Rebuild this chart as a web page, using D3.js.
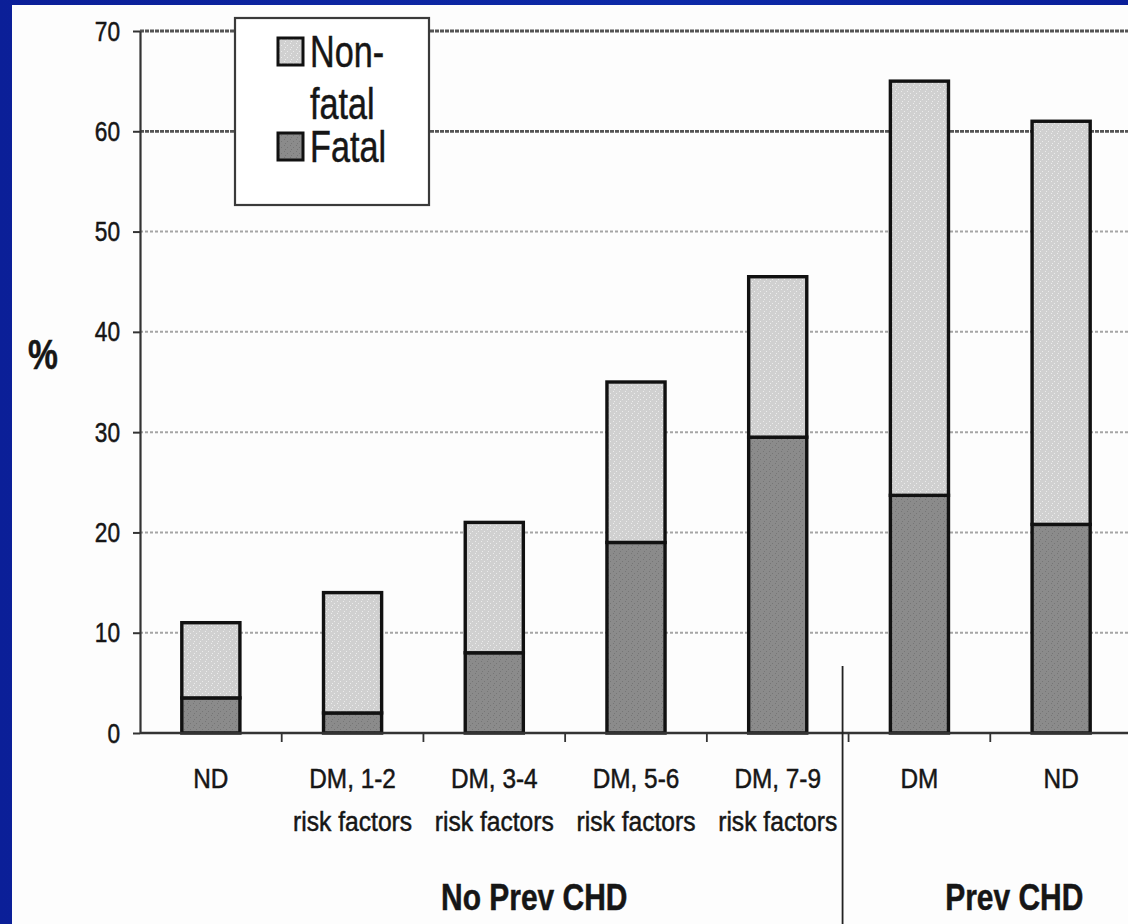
<!DOCTYPE html>
<html>
<head>
<meta charset="utf-8">
<script src="https://cdn.jsdelivr.net/npm/d3@7"></script>
<style>
  html, body { margin: 0; padding: 0; background: #0a22a0; }
  svg { display: block; }
  text { font-family: "Liberation Sans", Arial, sans-serif; fill: #161616; stroke: #161616; stroke-width: 0.5px; }
</style>
</head>
<body>
<svg id="chart" width="1128" height="924"></svg>
<script>
// Event rates (%) by group: fatal and non-fatal stacks
const categories   = ["ND", "DM, 1-2", "DM, 3-4", "DM, 5-6", "DM, 7-9", "DM", "ND"];
const subLabels    = ["", "risk factors", "risk factors", "risk factors", "risk factors", "", ""];
const fatal        = [3.5, 2.0, 8.0, 19.0, 29.5, 23.7, 20.8];
const nonFatal     = [7.5, 12.0, 13.0, 16.0, 16.0, 41.3, 40.2];
const groups       = ["No Prev CHD", "Prev CHD"];
const groupOf      = [0, 0, 0, 0, 0, 1, 1];
const yTicks       = [0, 10, 20, 30, 40, 50, 60, 70];

const svg = d3.select("#chart");
const W = 1128, H = 924;

// page background and white figure panel
const defs = svg.append("defs");
const bgGrad = defs.append("linearGradient")
  .attr("id", "bg").attr("x1", 0).attr("y1", 0).attr("x2", 1).attr("y2", 0);
bgGrad.append("stop").attr("offset", 0).attr("stop-color", "#0b1f98");
bgGrad.append("stop").attr("offset", 0.6).attr("stop-color", "#0d2aa8");
bgGrad.append("stop").attr("offset", 1).attr("stop-color", "#0a1f9a");
svg.append("rect").attr("width", W).attr("height", H).attr("fill", "url(#bg)");
svg.append("rect").attr("x", 12).attr("y", 5).attr("width", W - 12).attr("height", H - 5).attr("fill", "#fdfdfd");

// speckled fills for the two series
function speckle(id, base, dot) {
  const p = defs.append("pattern").attr("id", id).attr("patternUnits", "userSpaceOnUse")
    .attr("width", 6).attr("height", 6);
  p.append("rect").attr("width", 6).attr("height", 6).attr("fill", base);
  p.append("rect").attr("x", 1).attr("y", 1).attr("width", 1).attr("height", 1).attr("fill", dot);
  p.append("rect").attr("x", 4).attr("y", 3).attr("width", 1).attr("height", 1).attr("fill", dot);
  p.append("rect").attr("x", 2).attr("y", 5).attr("width", 1).attr("height", 1).attr("fill", dot);
}
speckle("pNon", "#d0d0d0", "#ececec");
speckle("pFat", "#8b8b8b", "#767676");
const fills = { nonFatal: "url(#pNon)", fatal: "url(#pFat)" };

// scales
const x = d3.scaleBand().domain(d3.range(categories.length))
  .range([140, 1132]).paddingInner(0.59).paddingOuter(0.295);
const y = d3.scaleLinear().domain([0, 70]).range([733, 31]);

// gridlines
svg.append("g").selectAll("line").data(yTicks.filter(t => t > 0)).join("line")
  .attr("x1", 140).attr("x2", W)
  .attr("y1", d => y(d)).attr("y2", d => y(d))
  .attr("stroke", d => d >= 60 ? "#555" : "#a5a5a5")
  .attr("stroke-width", d => d >= 60 ? 2.8 : 2)
  .attr("stroke-dasharray", d => d >= 60 ? "4,1" : "3,2");

// stacked bars
const rows = categories.map((c, i) => ({ i, fatal: fatal[i], nonFatal: nonFatal[i] }));
const stack = d3.stack().keys(["fatal", "nonFatal"])(rows);
const layers = svg.append("g").selectAll("g").data(stack).join("g")
  .attr("fill", d => fills[d.key]);
layers.selectAll("rect").data(d => d).join("rect")
  .attr("x", d => x(d.data.i))
  .attr("width", x.bandwidth())
  .attr("y", d => y(d[1]))
  .attr("height", d => y(d[0]) - y(d[1]))
  .attr("stroke", "#111").attr("stroke-width", 3.4);

// y axis
const yAxis = svg.append("g").attr("transform", "translate(140,0)")
  .call(d3.axisLeft(y).tickValues(yTicks).tickSize(7).tickPadding(0).tickSizeOuter(0));
yAxis.select(".domain").attr("stroke", "#333").attr("stroke-width", 2.2);
yAxis.selectAll(".tick line").attr("stroke", "#333").attr("stroke-width", 2);
yAxis.selectAll(".tick text")
  .attr("x", null).attr("dy", null)
  .attr("text-anchor", "end")
  .attr("font-size", 27)
  .attr("transform", "translate(-20,9) scale(0.84,1)");

// x axis
const xAxis = svg.append("g").attr("transform", "translate(0,733)");
xAxis.append("line").attr("x1", 140).attr("x2", W).attr("y1", 0).attr("y2", 0)
  .attr("stroke", "#333").attr("stroke-width", 2.6);
const bounds = d3.range(categories.length).map(i => x(i) - x.step() * x.paddingInner() / 2);
xAxis.selectAll("line.tick").data(bounds.slice(1)).join("line").attr("class", "tick")
  .attr("x1", d => d).attr("x2", d => d).attr("y1", 0).attr("y2", 9)
  .attr("stroke", "#333").attr("stroke-width", 1.8);

// category labels
const cx = i => x(i) + x.bandwidth() / 2;
const lab = svg.append("g");
lab.selectAll("text.l1").data(categories).join("text").attr("class", "l1")
  .attr("transform", (d, i) => `translate(${cx(i)},788) scale(0.87,1)`)
  .attr("text-anchor", "middle").attr("font-size", 28).text(d => d);
lab.selectAll("text.l2").data(subLabels).join("text").attr("class", "l2")
  .attr("transform", (d, i) => `translate(${cx(i)},831) scale(0.88,1)`)
  .attr("text-anchor", "middle").attr("font-size", 28).text(d => d);

// group divider and group titles
const split = x(groupOf.indexOf(1)) - x.step() * x.paddingInner() / 2 - 6;
svg.append("line").attr("x1", split).attr("x2", split).attr("y1", 666).attr("y2", H)
  .attr("stroke", "#222").attr("stroke-width", 1.8);
const groupCentre = g => d3.mean(d3.range(categories.length).filter(i => groupOf[i] === g), cx);
const groupShift = [40, 24];
svg.selectAll("text.grp").data(groups).join("text").attr("class", "grp")
  .attr("transform", (d, g) => `translate(${groupCentre(g) + groupShift[g]},910) scale(0.81,1)`)
  .attr("text-anchor", "middle").attr("font-size", 37).attr("font-weight", "bold")
  .text(d => d);

// y axis title
svg.append("text").attr("transform", "translate(43,369) scale(0.8,1)")
  .attr("text-anchor", "middle").attr("font-size", 42).attr("font-weight", "bold").text("%");

// legend
const lg = svg.append("g").attr("transform", "translate(235,18)");
lg.append("rect").attr("width", 194).attr("height", 187)
  .attr("fill", "#fff").attr("stroke", "#3a3a3a").attr("stroke-width", 2.2);
const legendItems = [
  { lines: ["Non-", "fatal"], fill: fills.nonFatal, top: 20 },
  { lines: ["Fatal"], fill: fills.fatal, top: 115 }
];
legendItems.forEach(it => {
  lg.append("rect").attr("x", 43).attr("y", it.top).attr("width", 25).attr("height", 27)
    .attr("fill", it.fill).attr("stroke", "#111").attr("stroke-width", 3);
  it.lines.forEach((t, j) => {
    lg.append("text")
      .attr("transform", `translate(75,${it.top + 29 + j * 52}) scale(0.76,1)`)
      .attr("font-size", 45).text(t);
  });
});
</script>
</body>
</html>
